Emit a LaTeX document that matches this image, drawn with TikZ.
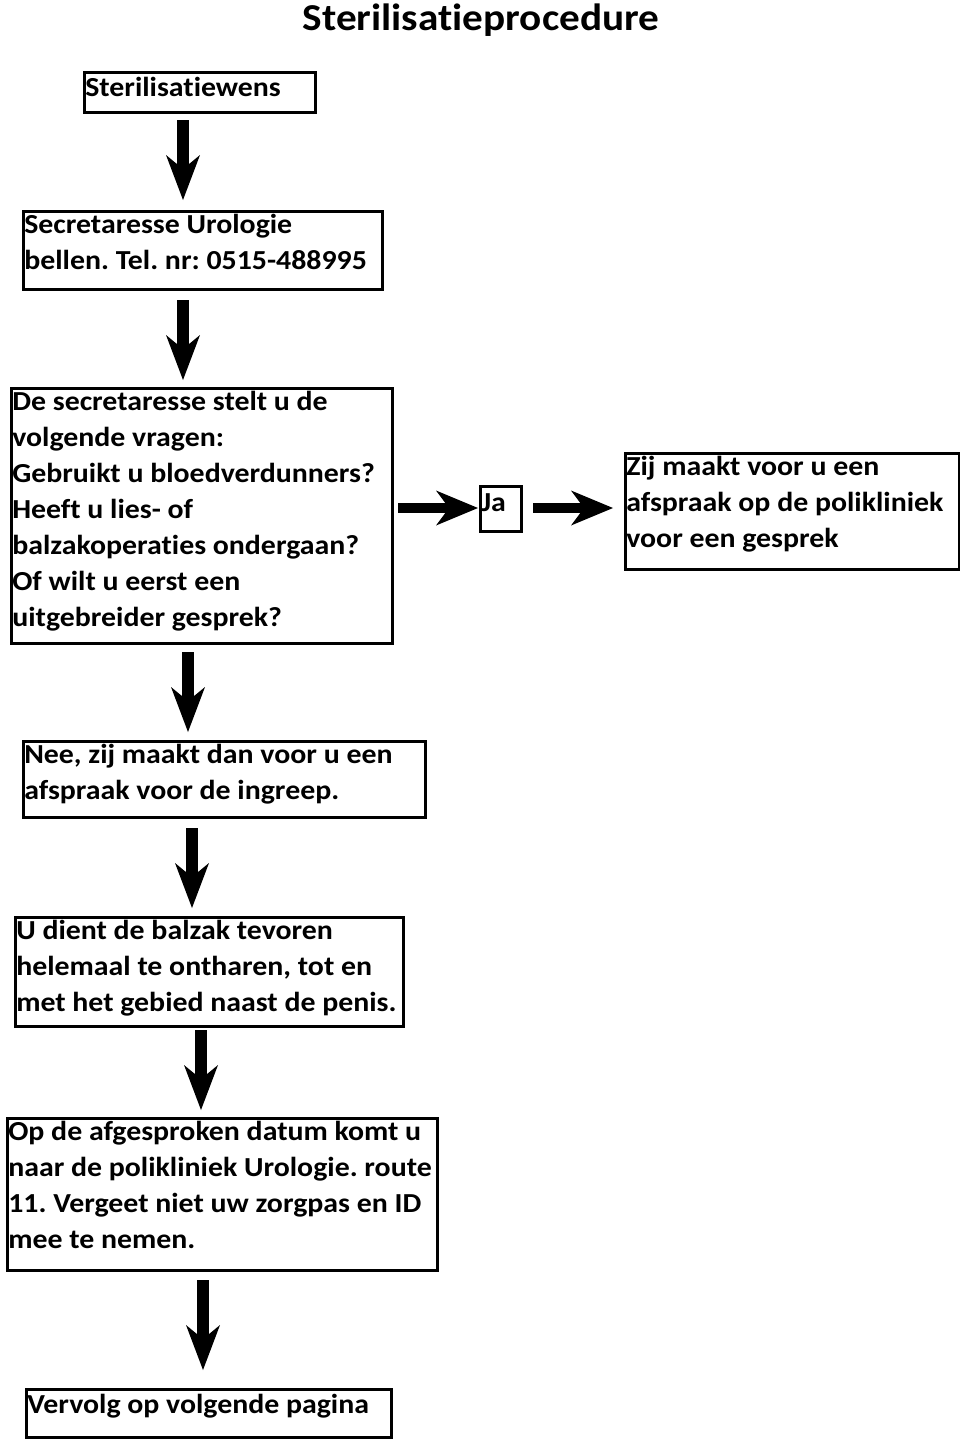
\documentclass[tikz,border=0pt]{standalone}
\usepackage{fontspec}
\setmainfont{Carlito}[FakeStretch=1.085, Ligatures={NoCommon}]
\usetikzlibrary{arrows.meta}
\frenchspacing
\newcommand\bodyfont{\fontsize{27.5}{36}\selectfont\bfseries}
\newcommand\boxtext[4][-3pt]{\parbox[c][#3pt][t]{#2pt}{\vspace*{#1}\begin{tabular}[t]{@{}l@{}}#4\end{tabular}}}
\tikzset{
  box/.style={draw, line width=2.6pt, inner xsep=1pt, inner ysep=0pt, anchor=north west, font=\bodyfont},
  vblock/.style={line width=12pt, -{Stealth[length=45pt,width=34pt,inset=14pt,line width=0pt]}},
  hblock/.style={line width=10pt, -{Stealth[length=42pt,width=35pt,inset=13pt,line width=0pt]}},
}
\begin{document}
\begin{tikzpicture}[x=1pt,y=-1pt]
\useasboundingbox (0,0) rectangle (960,1440);
\node[font=\fontsize{38}{44}\selectfont\bfseries, anchor=base, inner sep=0pt] (title) at (481,30) {Sterilisatieprocedure};

\node[box] (b1) at (83,71) {\boxtext[-1pt]{229}{40}{Sterilisatiewens}};
\node[box] (b2) at (22,210) {\boxtext{357}{78}{Secretaresse Urologie\\bellen. Tel. nr: 0515-488995}};
\node[box] (b3) at (10,387) {\boxtext{379}{255}{De secretaresse stelt u de\\volgende vragen:\\Gebruikt u bloedverdunners?\\Heeft u lies- of\\balzakoperaties ondergaan?\\Of wilt u eerst een\\uitgebreider gesprek?}};
\node[box] (ja) at (479,485) {\boxtext[0pt]{39}{45}{Ja}};
\node[box] (br) at (624,452) {\boxtext{332}{116}{Zij maakt voor u een\\afspraak op de polikliniek\\voor een gesprek}};
\node[box] (b4) at (22,740) {\boxtext{400}{76}{Nee, zij maakt dan voor u een\\afspraak voor de ingreep.}};
\node[box] (b5) at (14,916) {\boxtext{386}{109}{U dient de balzak tevoren\\helemaal te ontharen, tot en\\met het gebied naast de penis.}};
\node[box] (b6) at (6,1117) {\boxtext{428}{152}{Op de afgesproken datum komt u\\naar de polikliniek Urologie. route\\11. Vergeet niet uw zorgpas en ID\\mee te nemen.}};
\node[box] (b7) at (25,1388) {\boxtext[-1pt]{363}{48}{Vervolg op volgende pagina}};

\coordinate (a1s) at (183,120);  \coordinate (a1e) at (183,200);
\coordinate (a2s) at (183,300);  \coordinate (a2e) at (183,380);
\coordinate (a3s) at (188,652);  \coordinate (a3e) at (188,732);
\coordinate (a4s) at (192,828);  \coordinate (a4e) at (192,908);
\coordinate (a5s) at (201,1030); \coordinate (a5e) at (201,1110);
\coordinate (a6s) at (203,1280); \coordinate (a6e) at (203,1370);
\coordinate (h1s) at (398,508);  \coordinate (h1e) at (478,508);
\coordinate (h2s) at (533,508);  \coordinate (h2e) at (613,508);

\draw[vblock] (a1s) -- (a1e);
\draw[vblock] (a2s) -- (a2e);
\draw[vblock] (a3s) -- (a3e);
\draw[vblock] (a4s) -- (a4e);
\draw[vblock] (a5s) -- (a5e);
\draw[vblock] (a6s) -- (a6e);
\draw[hblock] (h1s) -- (h1e);
\draw[hblock] (h2s) -- (h2e);
\end{tikzpicture}
\end{document}
